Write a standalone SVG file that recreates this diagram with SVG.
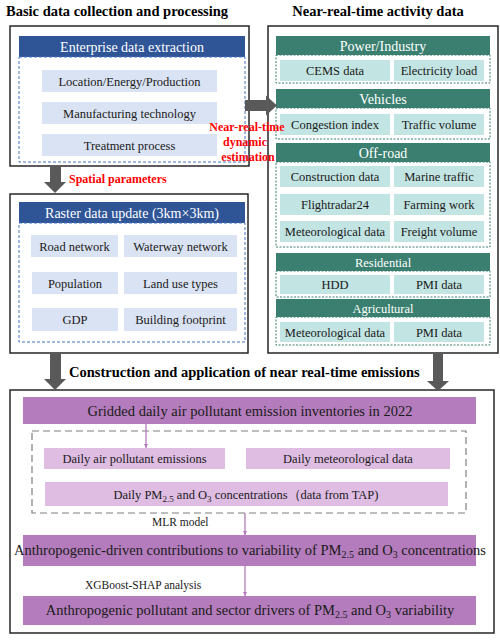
<svg xmlns="http://www.w3.org/2000/svg" width="500" height="640" viewBox="0 0 500 640">
<defs>
<style>
text{font-family:"Liberation Serif","Times New Roman",serif;}
.title{font-size:14.5px;font-weight:bold;fill:#000;}
.red{font-size:12px;font-weight:bold;fill:#ff0000;}
.outer{fill:#fff;stroke:#262626;stroke-width:1.5;}
.bhead{fill:#2f5597;}
.bdash{fill:none;stroke:#4472c4;stroke-width:1;stroke-dasharray:3,2;}
.bitem{fill:#dae3f3;}
.ghead{fill:#3a7f6f;}
.gdash{fill:none;stroke:#3a7f6f;stroke-width:1;stroke-dasharray:2,1.5;}
.gitem{fill:#c2e4e2;}
.phead{fill:#b47cbc;}
.pitem{fill:#dfbde3;}
.pdash{fill:none;stroke:#7f7f7f;stroke-width:1.2;stroke-dasharray:7,4;}
.ht{font-size:14px;fill:#fff;text-anchor:middle;}
.hts{font-size:12.5px;fill:#fff;text-anchor:middle;}
.it{font-size:12.5px;fill:#1a1a1a;text-anchor:middle;}
.pt{font-size:14.5px;fill:#1a1a1a;text-anchor:middle;}
.pit{font-size:12.5px;fill:#1a1a1a;text-anchor:middle;}
.lbl{font-size:11.5px;fill:#1a1a1a;}
.garrow{fill:#595959;}
.parrow{stroke:#b47cbc;stroke-width:1.3;fill:none;}
</style>
<marker id="ph" viewBox="0 0 10 10" refX="10" refY="5" markerWidth="4" markerHeight="4" orient="auto" markerUnits="userSpaceOnUse">
<path d="M0,0 L10,5 L0,10 z" fill="#b47cbc"/>
</marker>
</defs>

<!-- Section titles -->
<text class="title" x="6" y="16">Basic data collection and processing</text>
<text class="title" x="378" y="16" text-anchor="middle">Near-real-time activity data</text>

<!-- Left: Enterprise data extraction -->
<g id="enterprise">
<rect class="outer" x="10" y="26" width="239" height="140"/>
<rect class="bhead" x="19" y="36" width="226" height="21"/>
<text class="ht" x="132" y="51.5">Enterprise data extraction</text>
<rect class="bdash" x="19" y="57" width="226" height="105"/>
<rect class="bitem" x="42" y="70" width="175" height="22"/>
<text class="it" x="129.5" y="85.5">Location/Energy/Production</text>
<rect class="bitem" x="42" y="102" width="175" height="22"/>
<text class="it" x="129.5" y="117.5">Manufacturing technology</text>
<rect class="bitem" x="42" y="134" width="175" height="22"/>
<text class="it" x="129.5" y="149.5">Treatment process</text>
</g>

<!-- Left: Raster data update -->
<g id="raster">
<rect class="outer" x="10" y="194" width="238" height="159"/>
<rect class="bhead" x="19" y="202" width="226" height="21"/>
<text class="ht" x="132" y="217.5">Raster data update (3km×3km)</text>
<rect class="bdash" x="19" y="223" width="226" height="119"/>
<rect class="bitem" x="31" y="235" width="87" height="22"/>
<text class="it" x="74.5" y="250.5">Road network</text>
<rect class="bitem" x="124" y="235" width="113" height="22"/>
<text class="it" x="180.5" y="250.5">Waterway network</text>
<rect class="bitem" x="32" y="272" width="86" height="22"/>
<text class="it" x="75" y="287.5">Population</text>
<rect class="bitem" x="124" y="272" width="113" height="22"/>
<text class="it" x="180.5" y="287.5">Land use types</text>
<rect class="bitem" x="32" y="308" width="86" height="23"/>
<text class="it" x="75" y="324">GDP</text>
<rect class="bitem" x="124" y="308" width="113" height="23"/>
<text class="it" x="180.5" y="324">Building footprint</text>
</g>

<!-- Right: activity data -->
<g id="activity">
<rect class="outer" x="268" y="26" width="230" height="327"/>
</g>
<g id="power">
<rect class="ghead" x="276" y="36" width="214" height="19"/>
<text class="ht" x="383" y="50.5">Power/Industry</text>
<rect class="gdash" x="276" y="55" width="214" height="28"/>
<rect class="gitem" x="280" y="60" width="110" height="21"/>
<text class="it" x="335" y="75">CEMS data</text>
<rect class="gitem" x="394" y="60" width="90" height="21"/>
<text class="it" x="439" y="75">Electricity load</text>
</g>
<g id="vehicles">
<rect class="ghead" x="276" y="89" width="214" height="19"/>
<text class="ht" x="383" y="103.5">Vehicles</text>
<rect class="gdash" x="276" y="108" width="214" height="31"/>
<rect class="gitem" x="280" y="114" width="110" height="21"/>
<text class="it" x="335" y="129">Congestion index</text>
<rect class="gitem" x="394" y="114" width="90" height="21"/>
<text class="it" x="439" y="129">Traffic volume</text>
</g>
<g id="offroad">
<rect class="ghead" x="276" y="143" width="214" height="19"/>
<text class="ht" x="383" y="157.5">Off-road</text>
<rect class="gdash" x="276" y="162" width="214" height="85"/>
<rect class="gitem" x="280" y="166" width="110" height="21"/>
<text class="it" x="335" y="181">Construction data</text>
<rect class="gitem" x="394" y="166" width="90" height="21"/>
<text class="it" x="439" y="181">Marine traffic</text>
<rect class="gitem" x="280" y="194" width="110" height="21"/>
<text class="it" x="335" y="209">Flightradar24</text>
<rect class="gitem" x="394" y="194" width="90" height="21"/>
<text class="it" x="439" y="209">Farming work</text>
<rect class="gitem" x="280" y="221" width="110" height="21"/>
<text class="it" x="335" y="236">Meteorological data</text>
<rect class="gitem" x="394" y="221" width="90" height="21"/>
<text class="it" x="439" y="236">Freight volume</text>
</g>
<g id="residential">
<rect class="ghead" x="276" y="253" width="214" height="18"/>
<text class="hts" x="383" y="266.5">Residential</text>
<rect class="gdash" x="276" y="271" width="214" height="26"/>
<rect class="gitem" x="280" y="275" width="110" height="19"/>
<text class="it" x="335" y="289">HDD</text>
<rect class="gitem" x="394" y="275" width="90" height="19"/>
<text class="it" x="439" y="289">PMI data</text>
</g>
<g id="agricultural">
<rect class="ghead" x="276" y="299" width="214" height="18"/>
<text class="hts" x="383" y="312.5">Agricultural</text>
<rect class="gdash" x="276" y="317" width="214" height="28"/>
<rect class="gitem" x="280" y="322" width="110" height="20"/>
<text class="it" x="335" y="336.5">Meteorological data</text>
<rect class="gitem" x="394" y="322" width="90" height="20"/>
<text class="it" x="439" y="336.5">PMI data</text>
</g>

<!-- Bottom section -->
<g id="emissions">
<rect class="outer" x="10" y="390" width="484" height="243"/>
</g>
<g id="gridded">
<rect class="phead" x="23" y="397" width="453" height="27"/>
<text class="pt" x="250" y="415.5">Gridded daily air pollutant emission inventories in 2022</text>
</g>
<g id="inputs">
<rect class="pdash" x="32" y="431" width="434" height="82"/>
<rect class="pitem" x="44" y="448" width="181" height="21"/>
<text class="pit" x="134.5" y="463">Daily air pollutant emissions</text>
<rect class="pitem" x="246" y="448" width="204" height="21"/>
<text class="pit" x="348" y="463">Daily meteorological data</text>
<rect class="pitem" x="45" y="482" width="403" height="24"/>
<text class="pit" x="246" y="498.5">Daily PM<tspan font-size="9" dy="3">2.5</tspan><tspan dy="-3"> and O</tspan><tspan font-size="9" dy="3">3</tspan><tspan dy="-3"> concentrations（data from TAP)</tspan></text>
</g>
<g id="contrib">
<rect class="phead" x="23" y="535" width="453" height="31"/>
<text class="pt" x="250" y="555">Anthropogenic-driven contributions to variability of PM<tspan font-size="10" dy="3">2.5</tspan><tspan dy="-3"> and O</tspan><tspan font-size="10" dy="3">3</tspan><tspan dy="-3"> concentrations</tspan></text>
</g>
<g id="drivers">
<rect class="phead" x="23" y="596" width="453" height="29"/>
<text class="pt" x="250" y="615">Anthropogenic pollutant and sector drivers of PM<tspan font-size="10" dy="3">2.5</tspan><tspan dy="-3"> and O</tspan><tspan font-size="10" dy="3">3</tspan><tspan dy="-3"> variability</tspan></text>
</g>

<!-- Connectors -->
<g id="connectors">
<rect class="garrow" x="245" y="100" width="22" height="11"/>
<polygon class="garrow" points="266,95.5 277,105.5 266,115.5"/>
<rect class="garrow" x="50" y="166" width="11" height="17"/>
<polygon class="garrow" points="44,182 66,182 55,193"/>
<rect class="garrow" x="50" y="353" width="11" height="27"/>
<polygon class="garrow" points="44,379 66,379 55,390"/>
<rect class="garrow" x="433" y="353" width="10" height="29"/>
<polygon class="garrow" points="427,381 449,381 438,391"/>
<line class="parrow" x1="146" y1="424" x2="146" y2="448" marker-end="url(#ph)"/>
<line class="parrow" x1="245" y1="513" x2="245" y2="535" marker-end="url(#ph)"/>
<line class="parrow" x1="245" y1="566" x2="245" y2="596" marker-end="url(#ph)"/>
<text class="red" x="69" y="183">Spatial parameters</text>
<text class="red" text-anchor="middle"><tspan x="247" y="131">Near-real-time</tspan><tspan x="245" y="146">dynamic</tspan><tspan x="248" y="161">estimation</tspan></text>
<text class="title" x="69" y="377">Construction and application of near real-time emissions</text>
<text class="lbl" x="152" y="526">MLR model</text>
<text class="lbl" x="85" y="589">XGBoost-SHAP analysis</text>
</g>
</svg>
